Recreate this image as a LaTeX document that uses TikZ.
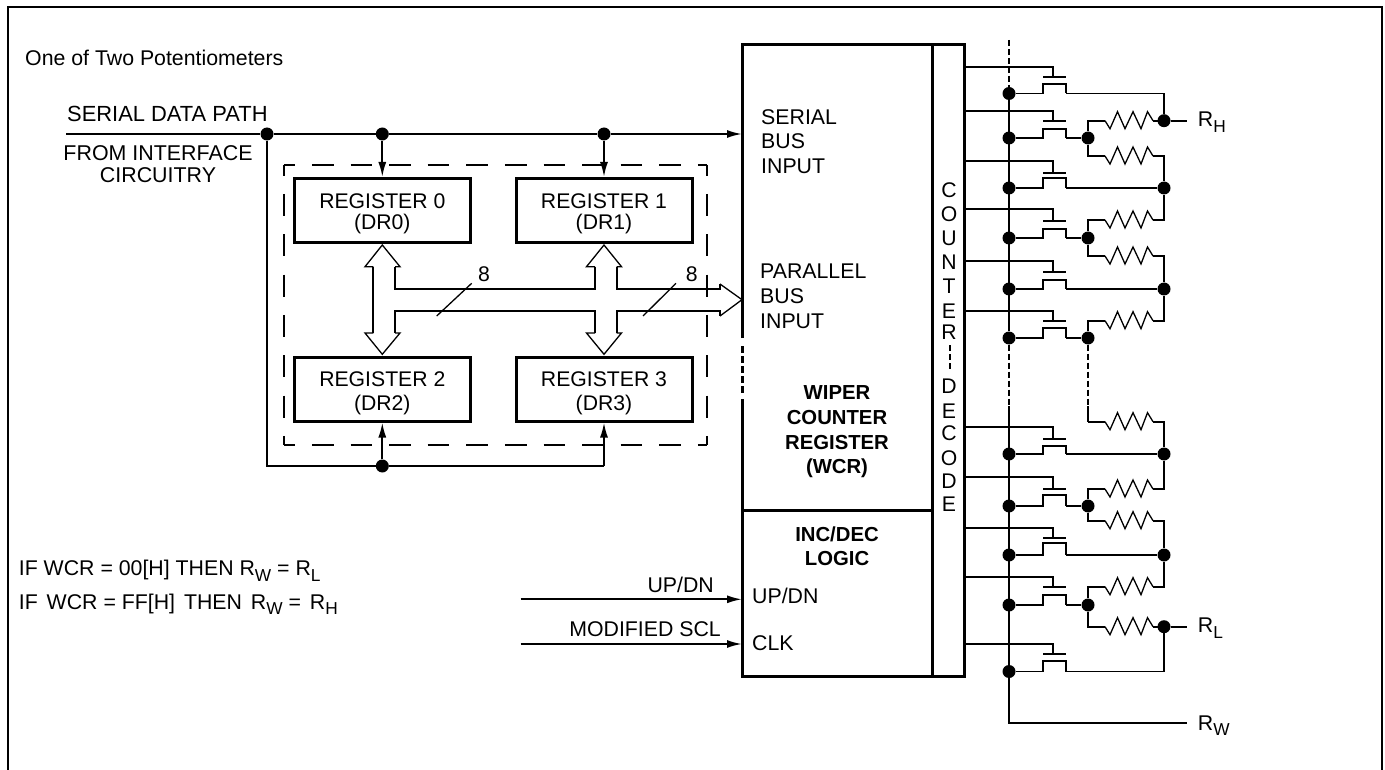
\documentclass[tikz,border=0pt]{standalone}
\usepackage{fontspec}
\setmainfont{Liberation Sans}
\usetikzlibrary{arrows.meta}
\newcommand\sbt[1]{\raisebox{-5.5pt}{\fontsize{17.3}{20}\selectfont #1}}
\tikzset{
  wire/.style={line width=1.9pt,line join=miter},
  thinw/.style={line width=1.3pt,line join=miter},
  thick box/.style={line width=3pt},
  frameline/.style={line width=2.2pt},
  dot/.style={circle,fill=black,draw=none,minimum size=13pt,inner sep=0pt},
  lb/.style={inner sep=0pt,anchor=base west,font=\fontsize{21.3}{24}\selectfont},
  lbc/.style={inner sep=0pt,anchor=base,font=\fontsize{21.2}{24}\selectfont},
  lbb/.style={inner sep=0pt,anchor=base,font=\fontsize{20.3}{24}\selectfont\bfseries},
  regbox/.style={draw,line width=3pt,minimum width=176pt,minimum height=64pt,inner sep=0pt},
  tiparrow/.style={wire,-{Latex[length=15pt,width=8pt]}},
  dashh/.style={line width=1.9pt,dash pattern=on 21.7pt off 16.9pt,dash phase=10.7pt},
  dashv/.style={line width=1.9pt,dash pattern=on 22pt off 18.3pt,dash phase=11.3pt},
  busdash/.style={line width=1.9pt,dash pattern=on 6pt off 3pt},
}
\begin{document}
\begin{tikzpicture}[x=1pt,y=-1pt]
\useasboundingbox (0,0) rectangle (1385,770);
% outer frame, open at the bottom
\coordinate (fa) at (8,770);
\coordinate (fb) at (8,7);
\coordinate (fc) at (1381.7,7);
\coordinate (fd) at (1381.7,770);
\draw[frameline] (fa) -- (fb) -- (fc) -- (fd);

% texts, left
\node[lb] (title) at (25,65.7) {One of Two Potentiometers};
\node[lb,font=\fontsize{21.9}{24}\selectfont] (sdp) at (67,121.7) {SERIAL DATA PATH};
\node[lbc,font=\fontsize{21.4}{24}\selectfont] (fi1) at (158,160.7) {FROM INTERFACE};
\node[lbc,font=\fontsize{21.4}{24}\selectfont] (fi2) at (158,182.7) {CIRCUITRY};
\node[lb] (if1) at (18.7,575.7) {IF WCR = 00[H] THEN R\sbt{W} = R\sbt{L}};
\node[lb] (if2) at (18.7,609.3) {IF\hspace{3pt} WCR = FF[H]\hspace{3pt} THEN\hspace{3pt} R\sbt{W} =\hspace{3pt} R\sbt{H}};

% registers
\node[regbox] (reg0) at (382.3,210.5) {};
\node[regbox] (reg1) at (604,210.5) {};
\node[regbox] (reg2) at (382.3,389) {};
\node[regbox] (reg3) at (604,389) {};
\node[lbc] (t0a) at (382.3,209) {REGISTER 0};
\node[lbc] (t0b) at (382.3,230) {(DR0)};
\node[lbc] (t1a) at (604,209) {REGISTER 1};
\node[lbc] (t1b) at (604,230) {(DR1)};
\node[lbc] (t2a) at (382.3,386.7) {REGISTER 2};
\node[lbc] (t2b) at (382.3,410.5) {(DR2)};
\node[lbc] (t3a) at (604,386.7) {REGISTER 3};
\node[lbc] (t3b) at (604,410.5) {(DR3)};

% dashed enclosure
\coordinate (da) at (284,165);
\coordinate (db) at (707,165);
\coordinate (dc) at (707,445);
\coordinate (dd) at (284,445);
\draw[dashh] (da) -- (db);
\draw[dashh] (dd) -- (dc);
\draw[dashv] (da) -- (dd);
\draw[dashv] (db) -- (dc);

% serial data path
\coordinate (sstart) at (66,134);
\coordinate (send) at (742,134);
\node[dot] (j0) at (267,134) {};
\node[dot] (j1) at (382.3,134) {};
\node[dot] (j2) at (604,134) {};
\node[dot] (j3) at (382.3,466) {};
\coordinate (jc) at (604,466);
\draw[wire] (sstart) -- (j0) -- (j1) -- (j2);
\draw[tiparrow] (j2) -- (send);
\draw[tiparrow] (j1) -- (reg0);
\draw[tiparrow] (j2) -- (reg1);
\draw[wire] (j0) |- (j3) -- (jc);
\draw[tiparrow] (j3) -- (reg2);
\draw[tiparrow] (jc) -- (reg3);

% hollow parallel bus
\draw[wire] (373.3,266.7) -- (373.3,333);
\draw[wire] (395,266.7) -- (395,289) -- (595,289) -- (595,266.7);
\draw[wire] (616.7,266.7) -- (616.7,289) -- (720,289) -- (720,284);
\draw[wire] (395,333) -- (395,310.7) -- (595,310.7) -- (595,333);
\draw[wire] (616.7,333) -- (616.7,310.7) -- (720,310.7) -- (720,316);
\draw[thinw] (373.3,266.7) -- (365,266.7) -- (382.3,245) -- (400,266.7) -- (395,266.7);
\draw[thinw] (595,266.7) -- (586.5,266.7) -- (604,245) -- (621.5,266.7) -- (616.7,266.7);
\draw[thinw] (373.3,333) -- (365,333) -- (382.3,354.3) -- (400,333) -- (395,333);
\draw[thinw] (595,333) -- (586.5,333) -- (604,354.3) -- (621.5,333) -- (616.7,333);
\draw[thinw] (720,284) -- (742,299.7) -- (720,316);
\draw[thinw] (436.7,316) -- (471.7,283.3);
\draw[thinw] (643,316) -- (676,283.3);
\node[lbc] (w1) at (484,281.5) {8};
\node[lbc] (w2) at (691.7,281.5) {8};

% main block
\coordinate (ma) at (742.5,338);
\coordinate (mb) at (742.5,44.5);
\coordinate (mc) at (964,44.5);
\coordinate (md) at (964,676);
\coordinate (me) at (742.5,676);
\coordinate (mf) at (742.5,399);
\coordinate (mg) at (742.5,346);
\coordinate (mh) at (742.5,393);
\coordinate (ct) at (932.5,44.5);
\coordinate (cb) at (932.5,676);
\coordinate (la) at (742.5,510.7);
\coordinate (lb) at (932.5,510.7);
\draw[thick box] (ma) -- (mb) -- (mc) -- (md) -- (me) -- (mf);
\draw[line width=3pt,dash pattern=on 7pt off 3pt] (mg) -- (mh);
\draw[thick box] (ct) -- (cb);
\draw[thick box] (la) -- (lb);

\node[lb] (s1) at (761,125) {SERIAL};
\node[lb] (s2) at (761,149) {BUS};
\node[lb] (s3) at (761,174) {INPUT};
\node[lb] (p1) at (760,279) {PARALLEL};
\node[lb] (p2) at (760,303) {BUS};
\node[lb] (p3) at (760,328) {INPUT};
\node[lbb] (w3) at (837,399) {WIPER};
\node[lbb] (w4) at (837,424.5) {COUNTER};
\node[lbb] (w5) at (837,449) {REGISTER};
\node[lbb] (w6) at (837,473.5) {(WCR)};
\node[lbb] (i1) at (837,541) {INC/DEC};
\node[lbb] (i2) at (837,565) {LOGIC};
\node[lb] (u1) at (752,603) {UP/DN};
\node[lb] (u2) at (752,650.7) {CLK};

% up/dn and clock inputs
\coordinate (ua) at (520.7,599.3);
\coordinate (ub) at (742,599.3);
\coordinate (ca) at (520.7,644);
\coordinate (cc) at (742,644);
\draw[tiparrow] (ua) -- (ub);
\draw[tiparrow] (ca) -- (cc);
\node[lb,anchor=base east] (u3) at (714,592.7) {UP/DN};
\node[lb,anchor=base east] (u4) at (721,636.7) {MODIFIED SCL};

% vertical text
\foreach \n/\l/\y in {c1/C/198,c2/O/221.5,c3/U/245.5,c4/N/269.5,c5/T/293.5,c6/E/318,c7/R/339,
                      c8/D/393.5,c9/E/418,c10/C/440,c11/O/465,c12/D/488,c13/E/511.5}{
  \node[lbc] (\n) at (949,\y) {\l};
}
\coordinate (cd1) at (950,345);
\coordinate (cd2) at (950,371);
\draw[busdash] (cd1) -- (cd2);

% transistors
\foreach \i/\g/\p/\c/\s in {1/66.7/76.7/84.3/93.5,2/110.7/120.7/129/138,3/161/172.7/178.3/188,
    4/209/221/229/238,5/261/272/280/289,6/311/320.7/328/338,7/426.7/439/445.7/454,
    8/476.7/489/495/506,9/527.7/537.7/543.3/555,10/576.7/586.7/595/605,11/644/654/661/671.5}{
  \node[dot] (s\i) at (1009,\s) {};
  \coordinate (ga\i) at (964,\g);
  \coordinate (gb\i) at (1053,\g);
  \coordinate (gc\i) at (1053,\p);
  \coordinate (gl\i) at (1043,\p);
  \coordinate (gr\i) at (1066,\p);
  \coordinate (ca\i) at (1043,\c);
  \coordinate (cb\i) at (1066,\c);
  \coordinate (da\i) at (1043,\s);
  \coordinate (dr\i) at (1066,\s);
  \draw[wire] (ga\i) -- (gb\i) -- (gc\i);
  \draw[wire] (gl\i) -- (gr\i);
  \draw[wire] (s\i) -- (da\i) -- (ca\i) -- (cb\i) -- (dr\i);
}
% left bus
\coordinate (lbt) at (1009,40);
\coordinate (lbd) at (1009,406);
\coordinate (rwc) at (1009,722.7);
\coordinate (rwe) at (1186.7,722.7);
\draw[busdash] (lbt) -- (s1);
\draw[wire] (s1) -- (s6);
\draw[busdash] (s6) -- (lbd);
\draw[wire] (lbd) -- (s11) -- (rwc) -- (rwe);

% middle and right junctions
\foreach \m/\s in {2/138,4/238,6/338,8/506,10/605}{
  \node[dot] (m\m) at (1088,\s) {};
  \draw[wire] (dr\m) -- (m\m);
}
\coordinate (m6b) at (1088,406);
\coordinate (m6c) at (1088,421.7);
\draw[busdash] (m6) -- (m6b);
\draw[wire] (m6b) -- (m6c);
\node[dot] (n1) at (1164,120.7) {};
\node[dot] (n3) at (1164,188) {};
\node[dot] (n5) at (1164,289) {};
\node[dot] (n7) at (1164,454) {};
\node[dot] (n9) at (1164,555) {};
\node[dot] (n10) at (1164,626.7) {};
\coordinate (rhe) at (1186.7,120.7);
\coordinate (rle) at (1186.7,626.7);
\draw[wire] (dr1) -| (n1);
\draw[wire] (n1) -- (rhe);
\draw[wire] (dr3) -- (n3);
\draw[wire] (dr5) -- (n5);
\draw[wire] (dr7) -- (n7);
\draw[wire] (dr9) -- (n9);
\draw[wire] (dr11) -| (n10);
\draw[wire] (n10) -- (rle);

% resistors
\foreach \i/\m/\y/\n in {1/m2/120.7/n1,2/m2/156/n3,3/m4/220/n3,4/m4/256/n5,5/m6/320.7/n5,
    6/m6c/421.7/n7,7/m8/489/n7,8/m8/520.7/n9,9/m10/586.7/n9,10/m10/626.7/n10}{
  \coordinate (ra\i) at (1105,\y);
  \coordinate (rb\i) at (1153,\y);
  \coordinate (rc\i) at (1164,\y);
  \draw[wire] (\m) |- (ra\i);
  \draw[thinw] (ra\i) -- ++(5,8) -- ++(7.5,-17) -- ++(7.5,17) -- ++(8,-17) -- ++(8,17) -- ++(6.5,-17) -- (rb\i);
  \draw[wire] (rb\i) -- (rc\i) -- (\n);
}
\node[lb] (rh) at (1197.7,127) {R\sbt{H}};
\node[lb] (rl) at (1197.7,632.7) {R\sbt{L}};
\node[lb] (rw) at (1197.7,730) {R\sbt{W}};
\end{tikzpicture}
\end{document}
